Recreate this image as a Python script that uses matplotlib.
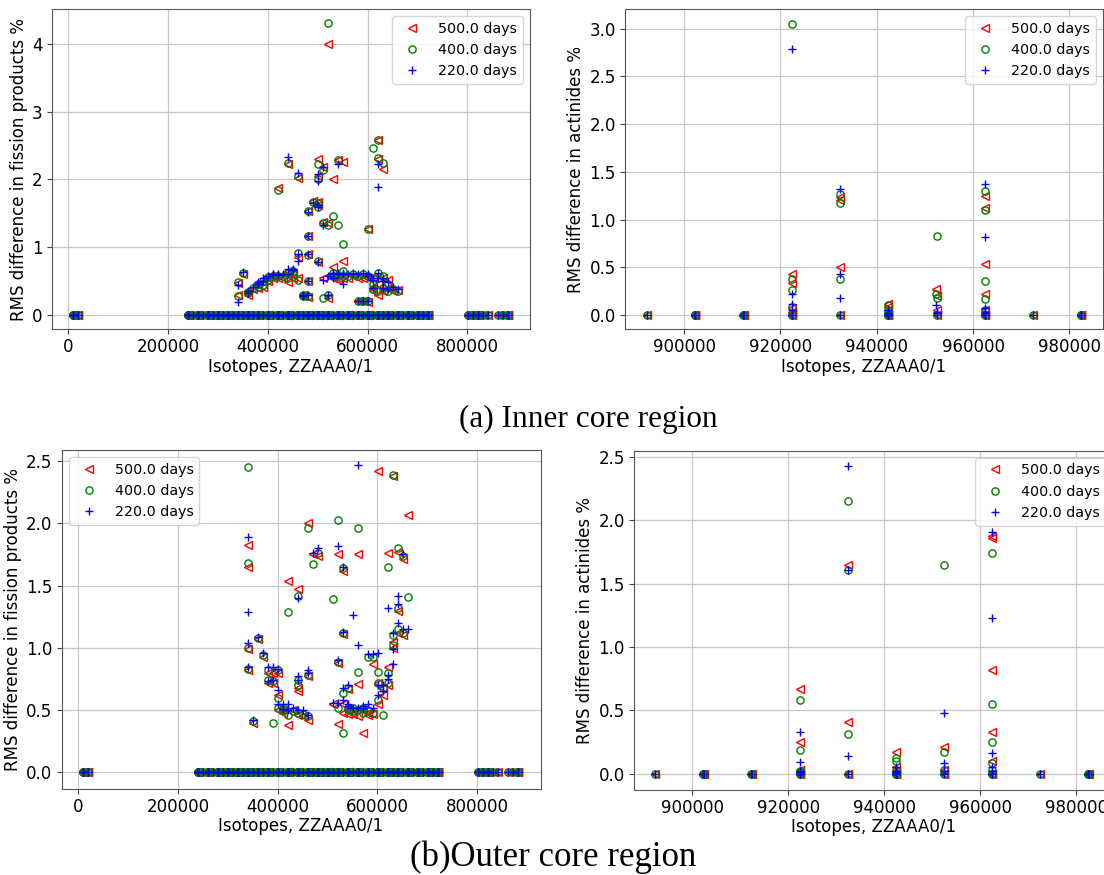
import matplotlib
matplotlib.use("Agg")
import matplotlib.pyplot as plt

# ---------------------------------------------------------------- data
SERIES_LABELS = ["500.0 days", "400.0 days", "220.0 days"]

# isotopes (ZZAAA0/1) whose RMS difference is zero at every burnup step
FP_ZERO_IDS = [
    10010, 10020, 10030, 20030, 20040,
    240500, 240520, 240530, 240540, 250550, 260540, 260560, 260570, 260580,
    270590, 280580, 280600, 280610, 280620, 280640, 290630, 290650,
    300640, 300660, 300670, 300680, 300700, 310690, 310710,
    320700, 320720, 320730, 320740, 320760, 330740, 330750,
    340740, 340760, 340770, 340780, 340800, 350790, 350810,
    360780, 360800, 360820, 360840, 360860, 370850, 370870,
    380840, 380860, 380870, 380880, 390890,
    400900, 400910, 400920, 400940, 400960, 410930,
    420920, 420940, 420950, 420960, 420970, 420980, 421000, 430990,
    440960, 440980, 440990, 441000, 441010, 441020, 441040, 451030,
    461020, 461040, 461050, 461060, 461080, 461100, 471070, 471090,
    481060, 481080, 481100, 481110, 481120, 481140, 481160, 491130, 491150,
    501120, 501140, 501160, 501170, 501180, 501200, 501220, 501240,
    511210, 511230, 521200, 521220, 521240, 521260, 521280, 521300, 531270,
    541240, 541260, 541280, 541290, 541300, 541320, 541340, 541360, 551330,
    561300, 561320, 561340, 561350, 561360, 561370, 561380, 571390,
    581360, 581380, 581400, 581420, 591410,
    601420, 601430, 601440, 601450, 601460, 601480, 601500, 611450,
    621440, 621500, 621520, 621540, 631510, 631530,
    641520, 641540, 641560, 641580, 641600, 651590,
    661560, 661580, 661600, 661620, 661640, 671650,
    681620, 681640, 681660, 681680, 681700, 691690,
    701680, 701700, 701720, 701740, 701760, 711750, 711760,
    721740, 721760, 721770, 721780, 721800,
    802000, 802020, 812030, 812050, 822040, 822060, 822070, 822080,
    832090, 842100, 862220, 872230, 882230, 882240, 882260,
]

ACT_ZERO_IDS = [
    892270, 902280, 902300, 902320, 912310, 912330,
    922320, 922330, 932360, 942360, 942420, 952421, 962470, 962480,
    972490, 982490, 982500, 982520,
]

# inner core, fission products
INNER_FP_IDS = [
    340790, 340820, 350820, 360830, 360850, 370860, 380890, 380900,
    390900, 390910, 400930, 400950, 410940, 410950, 420930, 420990,
    430980, 441030, 441050, 441060, 451020, 451050, 461030, 461070,
    461090, 471080, 471110, 481070, 481090, 481130, 481150, 481170,
    491140, 501130, 501190, 501210, 501230, 501250, 511220, 511240,
    511250, 521270, 521290, 521320, 531290, 531310, 531350, 541310,
    541330, 541350, 551340, 551350, 551370, 561400, 571400, 581410,
    581440, 591420, 591430, 601470, 601490, 601510, 611470, 611480,
    611490, 621470, 621490, 621510, 621530, 631540, 631550, 631560,
    641550, 641570, 651600, 661610,
]
INNER_FP_500 = [
    0.47, 0.29, 0.60, 0.35, 0.30, 0.38, 0.40, 0.45,
    0.42, 0.48, 0.50, 0.55, 0.55, 0.57, 0.55, 1.88,
    0.55, 2.22, 0.65, 0.48, 0.55, 0.60, 0.55, 2.02,
    0.85, 0.28, 0.30, 0.50, 0.90, 1.54, 1.17, 0.27,
    1.68, 1.67, 2.30, 2.05, 0.78, 1.62, 0.55, 2.18,
    1.37, 4.00, 1.35, 0.25, 0.71, 2.00, 0.55, 0.55,
    2.29, 0.52, 2.26, 0.55, 0.79, 0.55, 0.57, 0.55,
    0.20, 0.55, 0.21, 1.27, 0.55, 0.19, 0.55, 0.40,
    0.35, 0.30, 0.45, 2.58, 2.30, 2.16, 0.35, 0.55,
    0.40, 0.52, 0.35, 0.37,
]
INNER_FP_400 = [
    0.49, 0.28, 0.62, 0.34, 0.32, 0.40, 0.42, 0.46,
    0.44, 0.50, 0.52, 0.56, 0.57, 0.58, 0.58, 1.85,
    0.58, 2.24, 0.62, 0.55, 0.60, 0.65, 0.52, 2.05,
    0.91, 0.28, 0.29, 0.50, 0.89, 1.53, 1.17, 0.28,
    1.67, 1.65, 2.22, 2.01, 0.80, 1.60, 0.25, 2.14,
    1.35, 4.30, 1.33, 0.30, 0.62, 1.46, 0.58, 1.33,
    2.28, 0.58, 1.05, 0.58, 0.65, 0.58, 0.60, 0.58,
    0.21, 0.60, 0.20, 1.27, 0.58, 0.20, 2.46, 0.45,
    0.38, 0.35, 0.62, 2.58, 2.31, 2.24, 0.58, 0.40,
    0.35, 0.45, 0.38, 0.36,
]
INNER_FP_220 = [
    0.44, 0.19, 0.64, 0.36, 0.33, 0.42, 0.45, 0.48,
    0.50, 0.55, 0.57, 0.58, 0.60, 0.60, 0.60, 0.59,
    0.60, 2.33, 0.68, 0.60, 0.66, 0.68, 0.80, 2.10,
    0.90, 0.30, 0.28, 0.50, 0.90, 1.52, 1.17, 0.30,
    1.65, 1.60, 2.08, 1.97, 0.78, 1.62, 0.52, 2.19,
    1.33, 0.57, 0.30, 0.30, 0.55, 0.60, 0.62, 0.60,
    2.22, 0.62, 0.45, 0.60, 0.62, 0.60, 0.62, 0.60,
    0.21, 0.62, 0.20, 0.60, 0.57, 0.20, 0.52, 0.55,
    0.40, 0.62, 0.55, 2.22, 1.89, 0.55, 0.40, 0.50,
    0.38, 0.48, 0.42, 0.38,
]

# outer core, fission products
OUTER_FP_IDS = [
    340790, 340810, 340820, 340830, 350820, 360850, 370860, 380890,
    380900, 390900, 390910, 400930, 400950, 400970, 410940, 410950,
    420930, 420990, 430980, 441030, 441050, 441060, 441070, 451050,
    461030, 461070, 461090, 471110, 481130, 511250, 521270, 521290,
    521320, 531290, 531310, 531330, 531350, 541310, 541330, 541350,
    551340, 551370, 561390, 561400, 561410, 571400, 571410, 581410,
    581440, 591420, 591430, 601470, 601490, 601510, 611470, 611480,
    621490, 621510, 621530, 631540, 631550, 631560, 641550, 641570,
    641590, 651600, 651610, 661610,
]
OUTER_FP_500 = [
    1.83, 0.99, 1.65, 0.82, 0.40, 1.07, 0.93, 0.80,
    0.72, 0.80, 0.72, 0.80, 0.50, 0.62, 0.50, 0.48,
    0.38, 1.54, 0.50, 1.47, 0.65, 0.68, 0.46, 0.45,
    0.42, 2.00, 0.77, 1.75, 1.74, 0.55, 1.75, 0.88,
    0.39, 1.11, 1.62, 0.55, 0.48, 0.50, 0.67, 0.47,
    0.50, 0.47, 0.71, 1.75, 0.45, 0.32, 0.50, 0.48,
    0.46, 0.47, 0.87, 2.42, 0.72, 0.55, 0.62, 0.68,
    0.70, 1.76, 0.85, 2.38, 1.05, 1.00, 1.30, 1.77,
    1.12, 1.71, 1.10, 2.07,
]
OUTER_FP_400 = [
    2.45, 1.00, 1.68, 0.83, 0.41, 1.08, 0.94, 0.82,
    0.74, 0.40, 0.73, 0.82, 0.52, 0.60, 0.52, 0.50,
    0.46, 1.29, 0.49, 1.42, 0.70, 0.74, 0.48, 0.47,
    0.45, 1.96, 0.78, 1.67, 1.76, 1.39, 2.03, 0.89,
    0.52, 1.12, 1.64, 0.32, 0.64, 0.52, 0.68, 0.50,
    0.52, 0.49, 0.81, 1.96, 0.50, 0.48, 0.52, 0.93,
    0.50, 0.48, 0.93, 0.81, 0.72, 0.58, 0.46, 0.68,
    0.72, 1.65, 0.80, 2.39, 1.10, 1.02, 1.32, 1.80,
    1.15, 1.74, 1.12, 1.41,
]
OUTER_FP_220 = [
    1.89, 1.04, 1.29, 0.85, 0.42, 1.09, 0.96, 0.85,
    0.73, 0.85, 0.74, 0.83, 0.55, 0.66, 0.55, 0.51,
    0.55, 0.50, 0.52, 1.40, 0.74, 0.77, 0.50, 0.50,
    0.46, 0.82, 0.80, 1.76, 1.80, 0.56, 1.82, 0.90,
    0.56, 1.13, 1.65, 0.58, 0.68, 0.53, 0.70, 0.55,
    1.26, 0.52, 1.02, 2.47, 0.52, 0.52, 0.53, 0.95,
    0.55, 0.52, 0.95, 0.96, 0.70, 0.62, 0.65, 0.70,
    0.75, 1.32, 0.78, 0.87, 1.12, 0.99, 1.35, 1.42,
    1.20, 1.75, 1.15, 1.15,
]

# inner core, actinides
INNER_ACT_IDS = [
    922340, 922350, 922360, 922380, 932370, 932380, 932390,
    942380, 942390, 942400, 942410, 952410, 952420, 952430,
    962420, 962430, 962440, 962450, 962460,
]
INNER_ACT_500 = [0.43, 0.34, 0.07, 0.03, 1.24, 0.50, 1.20,
                 0.12, 0.08, 0.02, 0.0, 0.27, 0.05, 0.20,
                 1.25, 0.53, 1.12, 0.22, 0.05]
INNER_ACT_400 = [0.38, 0.26, 3.05, 0.08, 1.27, 0.38, 1.17,
                 0.10, 0.05, 0.02, 0.0, 0.22, 0.18, 0.83,
                 1.30, 0.36, 1.10, 0.17, 0.05]
INNER_ACT_220 = [0.22, 0.12, 2.79, 0.05, 1.32, 0.18, 0.43,
                 0.05, 0.02, 0.01, 0.0, 0.10, 0.03, 0.02,
                 1.37, 0.07, 0.82, 0.03, 0.02]

# outer core, actinides
OUTER_ACT_IDS = [
    922340, 922350, 922360, 922380, 932370, 932380, 932390,
    942380, 942390, 942400, 942410, 952410, 952420, 952430,
    962420, 962430, 962440, 962450, 962460,
]
OUTER_ACT_500 = [0.67, 0.25, 0.03, 0.01, 1.65, 0.0, 0.41,
                 0.17, 0.05, 0.02, 0.0, 0.21, 0.0, 0.03,
                 1.88, 0.82, 1.86, 0.33, 0.10]
OUTER_ACT_400 = [0.58, 0.19, 0.02, 0.01, 2.15, 0.31, 1.61,
                 0.12, 0.10, 0.03, 0.0, 0.17, 0.03, 1.65,
                 1.74, 0.25, 0.55, 0.08, 0.03]
OUTER_ACT_220 = [0.33, 0.09, 0.02, 0.01, 2.43, 0.14, 1.61,
                 0.05, 0.02, 0.01, 0.0, 0.48, 0.02, 0.08,
                 1.91, 0.16, 1.23, 0.05, 0.02]

CAPTION_A = "(a) Inner core region"
CAPTION_B = "(b)Outer core region"

# ---------------------------------------------------------------- style
plt.rcParams["font.family"] = ["DejaVu Sans"]
TICK_FS = 12
LEGEND_FS = 10.3
STYLES = [
    dict(marker="<", mfc="none", mec="red", color="red"),
    dict(marker="o", mfc="none", mec="green", color="green"),
    dict(marker="+", mfc="blue", mec="blue", color="blue"),
]

W, H = 1104, 875
fig = plt.figure(figsize=(W / 100, H / 100), dpi=100)


def px_axes(left, top, right, bottom):
    return fig.add_axes([left / W, 1 - bottom / H, (right - left) / W, (bottom - top) / H])


def panel(ax, zero_ids, ids, series, ylabel, xlim, ylim, legend_loc):
    for vals, label, st in zip(series, SERIES_LABELS, STYLES):
        xs = list(zero_ids) + list(ids)
        ys = [0.0] * len(zero_ids) + list(vals)
        ax.plot(xs, ys, linestyle="none", markersize=5.2, markeredgewidth=1.0,
                label=label, **st)
    ax.set_xlim(*xlim)
    ax.set_ylim(*ylim)
    ax.grid(True, color="#c8c8c8", linewidth=0.9)
    ax.set_axisbelow(True)
    ax.tick_params(labelsize=TICK_FS, color="#444444", pad=3)
    for s in ax.spines.values():
        s.set_color("#555555")
    ax.set_xlabel("Isotopes, ZZAAA0/1", fontsize=TICK_FS, labelpad=1)
    ax.set_ylabel(ylabel, fontsize=TICK_FS, labelpad=3)
    ax.legend(loc=legend_loc, fontsize=LEGEND_FS, borderaxespad=0.5, framealpha=0.8)


FP_LABEL = "RMS difference in fission products %"
ACT_LABEL = "RMS difference in actinides %"

ax1 = px_axes(51.7, 9.3, 530, 329.3)
panel(ax1, FP_ZERO_IDS, INNER_FP_IDS, [INNER_FP_500, INNER_FP_400, INNER_FP_220],
      FP_LABEL, (-33300, 925700), (-0.211, 4.509), "upper right")
ax1.set_yticks([0, 1, 2, 3, 4])

ax2 = px_axes(625, 9.0, 1103, 329.3)
panel(ax2, ACT_ZERO_IDS, INNER_ACT_IDS, [INNER_ACT_500, INNER_ACT_400, INNER_ACT_220],
      ACT_LABEL, (887700, 987000), (-0.15, 3.207), "upper right")

ax3 = px_axes(61.6, 449.9, 540.5, 788.6)
panel(ax3, FP_ZERO_IDS, OUTER_FP_IDS, [OUTER_FP_500, OUTER_FP_400, OUTER_FP_220],
      FP_LABEL, (-33300, 927200), (-0.1305, 2.590), "upper left")

ax4 = px_axes(633.7, 450.6, 1112.7, 789.8)
panel(ax4, ACT_ZERO_IDS, OUTER_ACT_IDS, [OUTER_ACT_500, OUTER_ACT_400, OUTER_ACT_220],
      ACT_LABEL, (887770, 987560), (-0.128, 2.551), "upper right")

for ax in (ax2, ax4):
    ax.set_xticks([900000, 920000, 940000, 960000, 980000])

fig.text(588 / W, 1 - 419 / H, CAPTION_A, ha="center", va="center",
         family=["Liberation Serif", "DejaVu Serif"], fontsize=22.5)
fig.text(553 / W, 1 - 857 / H, CAPTION_B, ha="center", va="center",
         family=["Liberation Serif", "DejaVu Serif"], fontsize=25)

fig.savefig("out.png", dpi=100)
